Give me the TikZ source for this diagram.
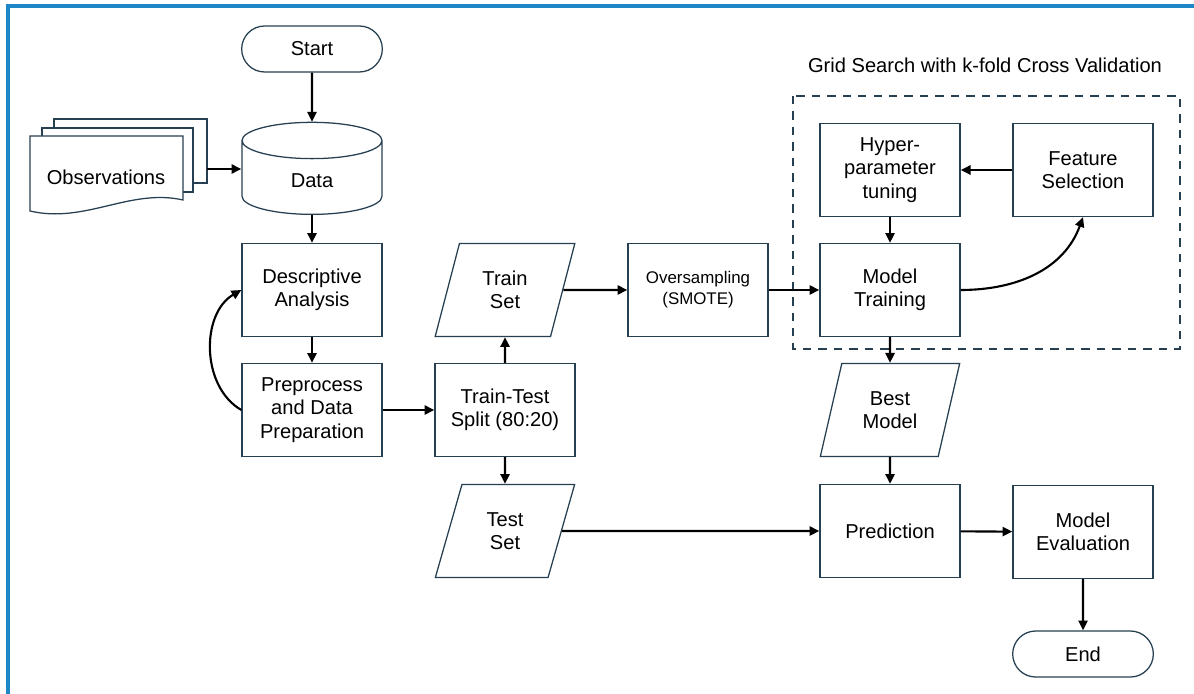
\documentclass[tikz,border=0pt]{standalone}
\usepackage{fontspec}
\setmainfont{Liberation Sans}
\usetikzlibrary{shapes.geometric,shapes.misc,arrows.meta}
\definecolor{edge}{RGB}{38,64,82}
\definecolor{frameblue}{RGB}{30,136,199}
\tikzset{
  basefont/.style={font=\fontsize{14.3}{16.6}\selectfont, text=black, align=center},
  process/.style={basefont, draw=edge, line width=0.9pt, rectangle, minimum width=3.5cm, minimum height=2.325cm, fill=white},
  term/.style={basefont, draw=edge, line width=0.9pt, rounded rectangle, minimum width=3.75cm, minimum height=1.15cm},
  io/.style={basefont, draw=edge, line width=0.9pt, trapezium, trapezium left angle=73, trapezium right angle=107, trapezium stretches=true, minimum width=3.5cm, minimum height=2.325cm},
  store/.style={basefont, draw=edge, line width=0.9pt, cylinder, shape border rotate=90, aspect=0.7, minimum width=3.5cm, minimum height=2.3cm},
  flow/.style={->, line width=1.5pt},
  gridbox/.style={draw=edge, line width=1.5pt, dash pattern=on 6pt off 5pt}
}
\begin{document}
\begin{tikzpicture}[x=0.025cm, y=-0.025cm, >={Triangle[length=7pt,width=6.5pt]}]
  \useasboundingbox (0,0) rectangle (1194,694);
  % frame
  \draw[frameblue, line width=2.2pt] (8,694) -- (8,6) -- (1194,6);

  % observations (stacked documents)
  \draw[edge, line width=0.9pt, fill=white] (54,119) rectangle (207,183);
  \draw[edge, line width=0.9pt, fill=white] (42,128) rectangle (193,192);
  \draw[edge, line width=0.9pt, fill=white] (30,136) -- (183,136) -- (183,200)
    .. controls (130,188) and (85,224) .. (30,211) -- cycle;
  \node[basefont] (obs) at (106,177) {Observations};
  \coordinate (obsout) at (207,169);

  \node[term] (start) at (312,49) {Start};
  \node[store] (data) at (312,181) {Data};
  \node[process] (desc) at (312,290) {Descriptive\\Analysis};
  \node[process] (prep) at (312,410) {Preprocess\\and Data\\Preparation};
  \node[process] (split) at (505,410) {Train-Test\\Split (80:20)};
  \node[io] (train) at (505,290) {Train\\Set};
  \node[io] (test) at (505,531) {Test\\Set};
  \node[process, font=\fontsize{12}{15}\selectfont] (smote) at (698,290) {Oversampling\\(SMOTE)};

  % grid search block
  \draw[gridbox] (793,96) rectangle (1180,349);
  \node[basefont] (gridlabel) at (985,65) {Grid Search with k-fold Cross Validation};
  \node[process] (hyper) at (890,170) {Hyper-\\parameter\\tuning};
  \node[process] (fsel) at (1083,170) {Feature\\Selection};
  \node[process] (fit) at (890,290) {Model\\Training};

  \node[io] (best) at (890,410) {Best\\Model};
  \node[process] (pred) at (890,531) {Prediction};
  \node[process] (eval) at (1083,532) {Model\\Evaluation};
  \node[term] (end) at (1083,654) {End};

  \draw[flow] (start) -- (data);
  \draw[flow] (obsout) -- (obsout -| data.west);
  \draw[flow] (data) -- (desc);
  \draw[flow] (desc) -- (prep);
  \draw[flow] (prep.west) to[out=150, in=210] (desc.west);
  \draw[flow] (prep) -- (split);
  \draw[flow] (split) -- (train);
  \draw[flow] (split) -- (test);
  \draw[flow] (train.east) -- (smote.west);
  \draw[flow] (smote) -- (fit);
  \draw[flow] (fsel) -- (hyper);
  \draw[flow] (hyper) -- (fit);
  \draw[flow] (fit.east) to[out=0, in=-110] (fsel.south);
  \draw[flow] (fit) -- (best);
  \draw[flow] (best) -- (pred);
  \draw[flow] (test.east) -- (pred.west);
  \draw[flow] (pred) -- (eval);
  \draw[flow] (eval) -- (end);
\end{tikzpicture}
\end{document}
